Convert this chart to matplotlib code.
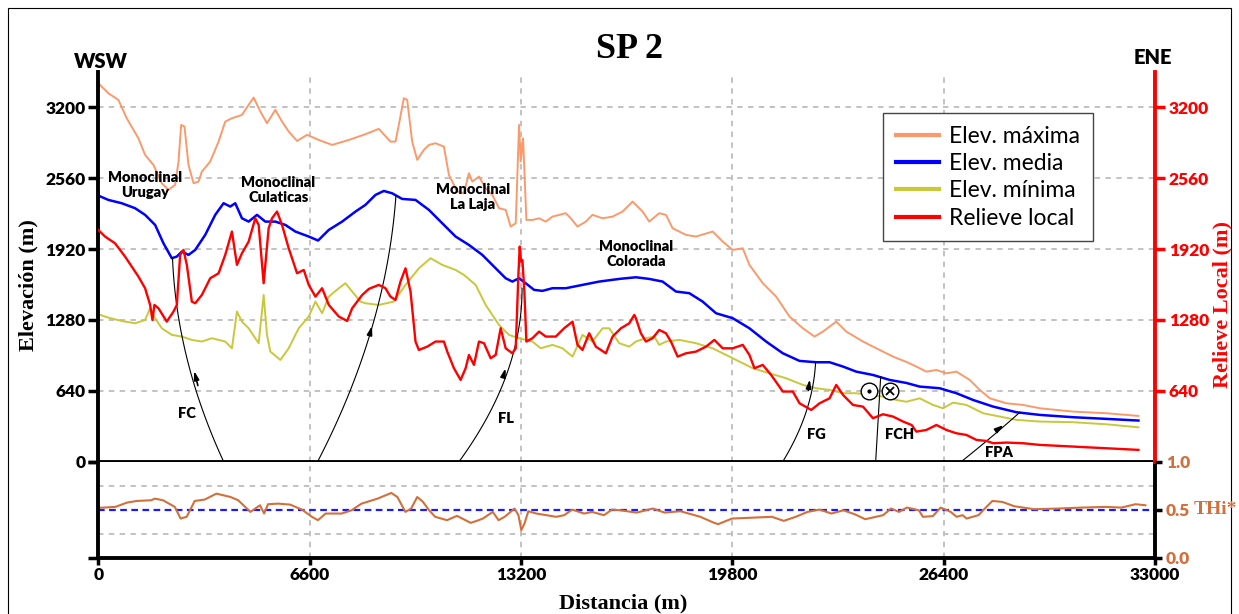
import numpy as np
import matplotlib
matplotlib.use('Agg')
import matplotlib.pyplot as plt
from matplotlib.lines import Line2D
from matplotlib.patches import Rectangle

plt.rcParams['font.family'] = ['Lato', 'DejaVu Sans']

# --- perfiles (distancia en m, elevación en m) ---
max_d = [0, 314, 627, 888, 1253, 1461, 1722, 1983, 2192, 2400, 2505, 2588, 2692, 2817, 2974,
         3130, 3234, 3495, 3756, 3964, 4173, 4486, 4695, 4851, 5060, 5268, 5529, 5738, 5946,
         6207, 6520, 6885, 7302, 7824, 8342, 8759, 9124, 9281, 9385, 9541, 9646, 9802, 9959,
         10167, 10324, 10532, 10793, 10950, 11210, 11419, 11575, 11680, 11888, 12097, 12305,
         12514, 12722, 12879, 13036, 13140, 13192, 13265, 13369, 13557, 13766, 13974, 14183,
         14600, 14756, 14965, 15225, 15434, 15747, 16060, 16373, 16686, 16997, 17205, 17518,
         17727, 17935, 18353, 18665, 19187, 19500, 19813, 20126, 20334, 20751, 21169, 21586,
         22003, 22368, 22629, 23046, 23359, 23880, 24298, 24819, 25234, 25547, 25860, 26173,
         26486, 26799, 27216, 27529, 27842, 28363, 28885, 29406, 30449, 31492, 32483]
max_e = [3419, 3328, 3268, 3102, 2921, 2771, 2680, 2515, 2455, 2500, 2711, 3042, 3027, 2680, 2515,
         2530, 2620, 2711, 2891, 3072, 3102, 3132, 3223, 3289, 3163, 3057, 3178, 3072, 2982,
         2897, 2952, 2906, 2861, 2906, 2958, 3006, 2891, 2891, 3042, 3283, 3268, 2891, 2726,
         2816, 2861, 2876, 2846, 2590, 2440, 2424, 2605, 2530, 2575, 2470, 2409,
         2289, 2274, 2123, 2153, 3042, 2711, 2921, 2183, 2183, 2198, 2168, 2213,
         2244, 2198, 2123, 2168, 2229, 2198, 2213, 2259, 2349, 2259, 2168, 2244,
         2229, 2108, 2048, 2033, 2078, 1987, 1912, 1927, 1777, 1611, 1490, 1310,
         1204, 1129, 1174, 1264, 1174, 1084, 1023, 948, 900, 858, 812, 827,
         797, 812, 737, 647, 571, 526, 511, 481, 451, 436, 412]

med_d = [0, 314, 731, 1149, 1461, 1774, 2035, 2296, 2452, 2609, 2817, 3026, 3339, 3652, 3912,
         4121, 4277, 4486, 4695, 4956, 5216, 5529, 5842, 6155, 6572, 6864, 7198, 7615, 8033,
         8342, 8655, 8916, 9176, 9489, 9906, 10324, 10741, 11158, 11575, 11993, 12410, 12722,
         12931, 13140, 13348, 13609, 13870, 14183, 14600, 15121, 15643, 16269, 16788, 17205,
         17623, 18040, 18457, 18874, 19291, 19813, 20334, 20856, 21378, 21899, 22420, 22838,
         23255, 23672, 24193, 24715, 25234, 25651, 26277, 26799, 27320, 27946, 28676, 29406,
         30449, 31492, 32483]
med_e = [2403, 2364, 2334, 2289, 2229, 2138, 1972, 1837, 1852, 1897, 1867, 1912, 2048, 2229, 2334,
         2304, 2334, 2198, 2168, 2229, 2168, 2168, 2138, 2078, 2033, 1997, 2093, 2168, 2259,
         2319, 2409, 2445, 2424, 2373, 2364, 2274, 2153, 2033, 1957, 1867, 1746, 1656,
         1626, 1656, 1611, 1551, 1542, 1566, 1566, 1596, 1626, 1650, 1665, 1650,
         1626, 1536, 1521, 1445, 1340, 1295, 1204, 1084, 978, 909, 897, 897,
         858, 812, 782, 737, 710, 677, 662, 617, 556, 496, 445, 421,
         400, 385, 370]

min_d = [0, 314, 731, 1149, 1461, 1618, 1774, 1983, 2296, 2609, 2921, 3234, 3547, 3964, 4173,
         4330, 4486, 4695, 4903, 5008, 5164, 5268, 5373, 5685, 5946, 6259, 6572, 6781, 6989,
         7198, 7511, 7719, 7928, 8189, 8342, 8759, 9228, 9594, 10011, 10376, 10741, 11158,
         11419, 11784, 12097, 12514, 12827, 13140, 13557, 13818, 14183, 14496, 14809, 15121,
         15434, 15747, 15956, 16269, 16582, 16788, 17101, 17362, 17518, 17727, 18144, 18665,
         19187, 19604, 20021, 20439, 20960, 21482, 22003, 22420, 22838, 23255, 23672, 24089,
         24506, 24923, 25234, 25651, 26069, 26381, 26694, 27111, 27633, 28155, 28676, 29406,
         30449, 31492, 32483]
min_e = [1331, 1300, 1270, 1249, 1279, 1385, 1295, 1204, 1144, 1129, 1099, 1084, 1114, 1084, 1023,
         1355, 1264, 1204, 1114, 1069, 1505, 1144, 993, 918, 1023, 1204, 1310, 1445, 1340,
         1490, 1566, 1611, 1536, 1445, 1430, 1415, 1445, 1596, 1746, 1837, 1777, 1731,
         1686, 1596, 1415, 1234, 1144, 1114, 1084, 1023, 1054, 1023, 948, 1144,
         1084, 1204, 1204, 1069, 1038, 1084, 1114, 1129, 1054, 1084, 1099, 1069,
         1023, 963, 903, 843, 797, 752, 692, 662, 647, 617, 617, 602,
         586, 556, 540, 571, 511, 481, 532, 511, 436, 406, 376, 361,
         355, 336, 309]

rel_d = [0, 209, 523, 836, 1044, 1253, 1461, 1618, 1691, 1753, 1879, 2139, 2348, 2452, 2556,
         2661, 2765, 2921, 3026, 3234, 3495, 3756, 3964, 4173, 4330, 4486, 4695, 4903, 5008,
         5164, 5320, 5425, 5581, 5738, 5946, 6207, 6416, 6572, 6781, 6989, 7198, 7511, 7772,
         7928, 8241, 8450, 8759, 8968, 9124, 9281, 9437, 9594, 9750, 9906, 10011, 10272,
         10532, 10793, 10898, 11106, 11315, 11471, 11575, 11732, 11888, 12045, 12253, 12410,
         12566, 12670, 12722, 12931, 13036, 13119, 13161, 13202, 13244, 13306, 13369, 13557,
         13766, 13974, 14287, 14548, 14809, 14965, 15121, 15329, 15538, 15851, 16060, 16321,
         16582, 16738, 16788, 16944, 17101, 17310, 17518, 17727, 17883, 18092, 18353, 18665,
         18978, 19239, 19500, 19813, 20126, 20334, 20491, 20751, 21012, 21378, 21690, 21899,
         22264, 22524, 22837, 23046, 23255, 23568, 23880, 24193, 24506, 24819, 25132, 25400,
         25547, 25860, 26173, 26486, 26799, 27111, 27424, 27737, 27946, 28363, 28885, 29406,
         30449, 31492, 32483]
rel_e = [2093, 2033, 1972, 1852, 1762, 1671, 1566, 1415, 1279, 1415, 1385, 1264, 1355, 1415, 1867,
         1912, 1777, 1445, 1430, 1505, 1656, 1701, 1867, 2078, 1777, 1882, 1987, 2198, 2138,
         1611, 2108, 2198, 2259, 2138, 1927, 1701, 1731, 1596, 1490, 1566, 1415, 1310, 1270,
         1385, 1505, 1560, 1596, 1566, 1490, 1460, 1626, 1746, 1536, 1084, 1008, 1038,
         1084, 1084, 993, 843, 737, 843, 963, 873, 1084, 1069, 933, 963,
         1204, 1084, 1023, 978, 1023, 1686, 1942, 1807, 1822, 1536, 1084, 1114,
         1174, 1129, 1129, 1204, 1264, 1054, 1008, 1159, 1038, 978, 1129, 1204,
         1249, 1325, 1295, 1159, 1084, 1114, 1189, 1159, 1084, 948, 978, 993,
         1038, 1099, 1023, 1023, 1054, 963, 843, 873, 782, 632, 632, 526,
         466, 526, 571, 692, 602, 511, 496, 391, 427, 406, 361, 330,
         270, 285, 330, 285, 255, 240, 195, 186, 165, 171, 165, 150,
         135, 120, 105]

# índice THi* (0-1)
thi_d = [0, 530, 900, 1210, 1650, 1770, 2020, 2390, 2570, 2760, 3010, 3320, 3690, 4130, 4370,
         4750, 5050, 5180, 5300, 5610, 5990, 6360, 6670, 6860, 7100, 7600, 7910, 8220, 8720,
         9150, 9340, 9590, 9770, 9960, 10140, 10330, 10520, 10890, 11200, 11630, 11820, 12010,
         12320, 12500, 12690, 13000, 13120, 13210, 13310, 13430, 13680, 13990, 14300, 14550,
         14800, 15170, 15420, 15790, 16040, 16290, 16815, 17312, 17684, 18180, 18801, 19235,
         19359, 19794, 20290, 21034, 21407, 21779, 22151, 22524, 22896, 23268, 23641, 23951,
         24509, 24758, 25006, 25254, 25627, 25751, 26061, 26309, 26619, 26805, 26992, 27116,
         27488, 27736, 27922, 28232, 28605, 29225, 29970, 30714, 31459, 31955, 32390, 32700]
thi_v = [0.518, 0.528, 0.573, 0.590, 0.597, 0.614, 0.597, 0.528, 0.407, 0.425, 0.590, 0.604, 0.666,
         0.631, 0.597, 0.476, 0.545, 0.459, 0.556, 0.562, 0.552, 0.500, 0.425, 0.390, 0.459,
         0.459, 0.493, 0.562, 0.614, 0.673, 0.631, 0.476, 0.511, 0.631, 0.580, 0.493, 0.425,
         0.390, 0.435, 0.362, 0.383, 0.407, 0.476, 0.390, 0.425, 0.511, 0.442, 0.286, 0.356,
         0.483, 0.459, 0.442, 0.425, 0.442, 0.500, 0.459, 0.476, 0.442, 0.500, 0.493, 0.469,
         0.511, 0.469, 0.483, 0.425, 0.362, 0.349, 0.407, 0.414, 0.425, 0.383, 0.425, 0.476,
         0.500, 0.459, 0.493, 0.449, 0.400, 0.442, 0.511, 0.476, 0.521, 0.493, 0.425, 0.432,
         0.521, 0.476, 0.425, 0.442, 0.407, 0.442, 0.528, 0.590, 0.580, 0.535, 0.504, 0.511,
         0.521, 0.528, 0.521, 0.556, 0.545]

faults = {
    'FC': ([0, 662, 1144, 1837], [3913, 3026, 2609, 2317]),
    'F2': ([0, 963, 1325, 1837, 2394], [6833, 8342, 8655, 8968, 9333]),
    'FL': ([0, 481, 843, 1174, 1566], [11263, 12305, 12827, 13088, 13244]),
    'FG': ([0, 451, 897], [21378, 22108, 22400]),
    'FCH': ([0, 767], [24277, 24433]),
    'FPA': ([0, 210, 445], [26955, 27842, 28780]),
}
fault_arrows = [((3130, 662), (2974, 843)), ((8446, 1114), (8571, 1249)),
                ((12618, 737), (12743, 867)), ((22160, 617), (22233, 767)),
                ((27967, 264), (28342, 345))]

labels = [('Monoclinal\nUrugay', 1460, 2500), ('Monoclinal\nCulaticas', 5620, 2454),
          ('Monoclinal\nLa Laja', 11690, 2390), ('Monoclinal\nColorada', 16790, 1876),
          ('FC', 2770, 437), ('FL', 12720, 392), ('FG', 22420, 248),
          ('FCH', 25020, 248), ('FPA', 28140, 77)]

x_ticks = [0, 6600, 13200, 19800, 26400, 33000]
y_ticks = [0, 640, 1280, 1920, 2560, 3200]

W, H = 1239, 614
fig = plt.figure(figsize=(W / 100, H / 100), dpi=100)
fig.patches.append(Rectangle((8 / W, -0.01), 1223 / W, 1 - 8 / H + 0.01, transform=fig.transFigure,
                             fill=False, ec='black', lw=0.8))

ax = fig.add_axes([98.3 / W, 1 - 461.5 / H, (1155 - 98.3) / W, (461.5 - 72) / H])
axb = fig.add_axes([98.3 / W, 1 - 557.7 / H, (1155 - 98.3) / W, (557.7 - 461.5) / H])
axr = ax.twinx()

grid_kw = dict(color='#bdbdbd', ls=(0, (3, 3)), lw=1.3)
ymax = 3520
for a in (ax, axr):
    a.set_xlim(0, 33000)
    a.set_ylim(0, ymax)

ax.set_xticks(x_ticks)
ax.set_yticks(y_ticks)
ax.grid(True, **grid_kw)
ax.set_axisbelow(True)
ax.tick_params(axis='x', length=0, labelbottom=False)
ax.tick_params(axis='y', direction='out', length=7, width=2.5, labelsize=12.5, pad=2)
for t in ax.get_yticklabels():
    t.set_fontweight('heavy')
for s in ('top', 'right'):
    ax.spines[s].set_visible(False)
ax.spines['left'].set_linewidth(2.8)
ax.spines['bottom'].set_linewidth(2.8)

axr.set_yticks(y_ticks[1:])
axr.tick_params(axis='y', direction='out', length=7, width=2.5, colors='red', labelsize=12.5, pad=3)
for t in axr.get_yticklabels():
    t.set_fontweight('heavy')
for s in ('top', 'left', 'bottom'):
    axr.spines[s].set_visible(False)
axr.spines['right'].set_color('red')
axr.spines['right'].set_linewidth(2.8)

c_max, c_med, c_min, c_rel = '#fa9a6c', '#0000ff', '#c8c83a', '#ff0000'
ax.plot(max_d, max_e, color=c_max, lw=1.4)
ax.plot(med_d, med_e, color=c_med, lw=1.8)
ax.plot(min_d, min_e, color=c_min, lw=1.4)

# fallas
for name, (fe, fd) in faults.items():
    deg = min(2, len(fe) - 1)
    coef = np.polyfit(fe, fd, deg)
    ee = np.linspace(0, max(fe), 60)
    ax.plot(np.polyval(coef, ee), ee, color='black', lw=0.8, zorder=4)
for (x0, y0), (x1, y1) in fault_arrows:
    ax.annotate('', xy=(x1, y1), xytext=(x0, y0),
                arrowprops=dict(arrowstyle='-|>,head_length=0.5,head_width=0.15', color='black', lw=1.2),
                zorder=5)

axr.plot(rel_d, rel_e, color=c_rel, lw=1.7)

for txt, xd, ye in labels:
    axr.text(xd, ye, txt, ha='center', va='center', fontsize=10.5, fontweight='heavy',
             linespacing=1.15, zorder=6)

# ⊙ ⊗
axr.plot([24076, 24733], [637, 637], 'o', ms=12, mfc='white', mec='black', mew=1.0, zorder=6)
axr.plot([24076], [637], '.', ms=4, color='black', zorder=7)
axr.plot([24733], [637], 'x', ms=6, mew=1.3, color='black', zorder=7)

handles = [Line2D([], [], color=c, lw=3) for c in (c_max, c_med, c_min, c_rel)]
leg = axr.legend(handles, ['Elev. máxima', 'Elev. media', 'Elev. mínima', 'Relieve local'],
                 loc='upper left', bbox_to_anchor=(883 / W, 1 - 113 / H),
                 bbox_transform=fig.transFigure, borderaxespad=0, fancybox=False,
                 framealpha=1, edgecolor='#444444', prop={'size': 16.5},
                 handlelength=1.9, handletextpad=0.45, borderpad=0.55, labelspacing=0.28)
leg.get_frame().set_linewidth(1.0)

# panel inferior THi*
axb.set_xlim(0, 33000)
axb.set_ylim(0, 1)
axb.set_xticks(x_ticks)
axb.set_yticks([0, 1])
axb.grid(True, axis='x', **grid_kw)
for yv in (0.25, 0.75):
    axb.axhline(yv, **grid_kw)
axb.axhline(0.5, color='#1a1aff', ls=(0, (3, 2)), lw=1.6)
axb.plot(thi_d, thi_v, color='#d2703c', lw=1.5)
axb.tick_params(axis='x', direction='out', length=5, width=2.5, labelsize=12.5, pad=2)
axb.tick_params(axis='y', direction='out', length=7, width=2.5, labelleft=False)
for t in axb.get_xticklabels():
    t.set_fontweight('heavy')
axb.spines['top'].set_visible(False)
for s in ('left', 'right', 'bottom'):
    axb.spines[s].set_linewidth(2.8)

axb2 = axb.twinx()
axb2.set_ylim(0, 1)
axb2.set_yticks([0, 0.5, 1])
axb2.set_yticklabels(['0.0', '0.5', '1.0'])
axb2.tick_params(axis='y', direction='out', length=5, width=2.5, labelcolor='#d2703c',
                 labelsize=12.5, pad=3)
for t in axb2.get_yticklabels():
    t.set_fontweight('heavy')
for s in ('top', 'left', 'bottom', 'right'):
    axb2.spines[s].set_visible(False)

serif = ['Liberation Serif', 'DejaVu Serif']
fig.text(1194 / W, 1 - 509 / H, 'THi*', color='#d2703c', fontsize=14, fontweight='bold',
         family=serif, ha='left', va='center')

# textos
fig.text(630 / W, 1 - 49 / H, 'SP 2', fontsize=26, fontweight='bold', family=serif,
         ha='center', va='center')
fig.text(101 / W, 1 - 62 / H, 'WSW', fontsize=14.5, fontweight='heavy', ha='center', va='center')
fig.text(1153 / W, 1 - 57 / H, 'ENE', fontsize=14.5, fontweight='heavy', ha='center', va='center')
fig.text(28 / W, 1 - 285 / H, 'Elevación (m)', fontsize=16, fontweight='bold', family=serif,
         rotation=90, ha='center', va='center')
fig.text(1222 / W, 1 - 305 / H, 'Relieve Local (m)', fontsize=16, fontweight='bold', family=serif,
         rotation=90, ha='center', va='center', color='red')
fig.text(623 / W, 1 - 603 / H, 'Distancia (m)', fontsize=16, fontweight='bold', family=serif,
         ha='center', va='center')

fig.savefig('out.png', dpi=100)
